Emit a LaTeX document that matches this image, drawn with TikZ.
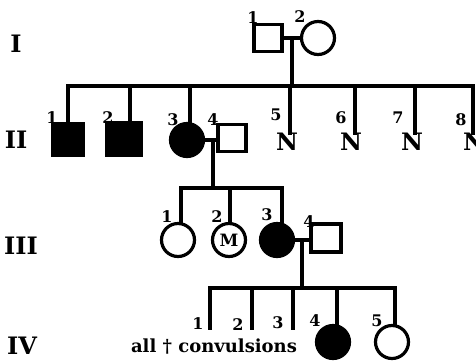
\documentclass[tikz,border=0pt]{standalone}
\usepackage{fontspec}
\setmainfont{DejaVu Serif}
\usetikzlibrary{calc}
\tikzset{line/.style={line width=3.2pt,line cap=rect},
 male/.style={draw,line width=3.2pt,rectangle,minimum width=28pt,minimum height=27pt,inner sep=0pt},
 female/.style={draw,line width=3.2pt,circle,minimum size=33pt,inner sep=0pt},
 affected/.style={fill=black},
 num/.style={font=\fontsize{16}{16}\selectfont\bfseries,inner sep=0pt},
 gen/.style={font=\fontsize{24}{24}\selectfont\bfseries,inner sep=0pt},
 unk/.style={font=\fontsize{24}{24}\selectfont\bfseries,inner sep=0pt}}

\begin{document}
\begin{tikzpicture}[x=1pt,y=-1pt]
\useasboundingbox (0,0) rectangle (476,360);
% generations
\node[gen] (g1) at (16,44) {I};
\node[gen] (g2) at (16,140) {II};
\node[gen] (g3) at (21,246) {III};
\node[gen] (g4) at (22,346) {IV};
% I
\node[male] (i1) at (268,38) {};
\node[female] (i2) at (318,38) {};
\node[num] (n11) at (253,18) {1};
\node[num] (n12) at (300,17) {2};
\coordinate (m1) at (292,38);
\draw[line] (i1.east) -- (i2.west);
\coordinate (s2a) at (68,86);
\coordinate (s2b) at (473,86);
\draw[line] (m1) -- (m1 |- s2a);
\draw[line] (s2a) -- (s2b);
% II
\node[male,affected,minimum width=30pt,minimum height=32pt] (ii1) at (68,139.5) {};
\node[male,affected,minimum width=35pt,minimum height=32pt] (ii2) at (124,139) {};
\node[female,affected] (ii3) at (187,140) {};
\node[male] (ii4) at (232,138) {};
\node[num] (n21) at (52,118) {1};
\node[num] (n22) at (108,118) {2};
\node[num] (n23) at (173,120) {3};
\node[num] (n24) at (213,120) {4};
\coordinate (d22) at (130,86);
\coordinate (d23) at (190,86);
\draw[line] (s2a) -- (ii1.north);
\draw[line] (d22) -- (d22 |- ii2.north);
\draw[line] (d23) -- (d23 |- ii3.north);
\foreach \n/\x/\d/\lx/\ly in {5/287/290/276/115,6/351/355/341/118,7/412/415/398/118,8/474/473/461/120}{
 \node[unk] (ii\n) at (\x,142) {N};
 \node[num] (n2\n) at (\lx,\ly) {\n};
 \coordinate (d2\n) at (\d,86);
 \draw[line] (d2\n) -- (d2\n |- ii\n.north);
}
\draw[line] (ii3.east) -- (ii3.east -| ii4.west);
\coordinate (m2) at (213,140);
\coordinate (s3a) at (181,188);
\coordinate (s3b) at (282,188);
\draw[line] (m2) -- (m2 |- s3a);
\draw[line] (s3a) -- (s3b);
% III
\node[female] (iii1) at (178,240) {};
\node[female,font=\fontsize{17}{17}\selectfont\bfseries] (iii2) at (229,240) {M};
\node[female,affected] (iii3) at (277,240) {};
\node[male,minimum width=30pt,minimum height=28pt] (iii4) at (326,238) {};
\node[num] (n31) at (167,217) {1};
\node[num] (n32) at (217,217) {2};
\node[num] (n33) at (267,215) {3};
\node[num] (n34) at (309,222) {4};
\coordinate (d32) at (230,188);
\draw[line] (s3a) -- (s3a |- iii1.north);
\draw[line] (d32) -- (d32 |- iii2.north);
\draw[line] (s3b) -- (s3b |- iii3.north);
\draw[line] (iii3.east) -- (iii3.east -| iii4.west);
\coordinate (m3) at (302,240);
\coordinate (s4a) at (210,288);
\coordinate (s4b) at (395,288);
\draw[line] (m3) -- (m3 |- s4a);
\draw[line] (s4a) -- (s4b);
% IV
\node[female,affected] (iv4) at (333,342) {};
\node[female] (iv5) at (392,342) {};
\foreach \n/\x/\lx/\ly in {1/210/198/324,2/252/238/325,3/293/278/323}{
 \coordinate (d4\n) at (\x,288);
 \coordinate (e4\n) at (\x,328);
 \node[num] (n4\n) at (\lx,\ly) {\n};
 \draw[line] (d4\n) -- (e4\n);
}
\node[num] (n44) at (315,321) {4};
\node[num] (n45) at (377,321) {5};
\coordinate (d44) at (337,288);
\draw[line] (d44) -- (d44 |- iv4.north);
\draw[line] (s4b) -- (s4b |- iv5.north);
\node[font=\fontsize{18}{18}\selectfont\bfseries,inner sep=0pt] (conv) at (214,347) {all † convulsions};
\end{tikzpicture}
\end{document}
